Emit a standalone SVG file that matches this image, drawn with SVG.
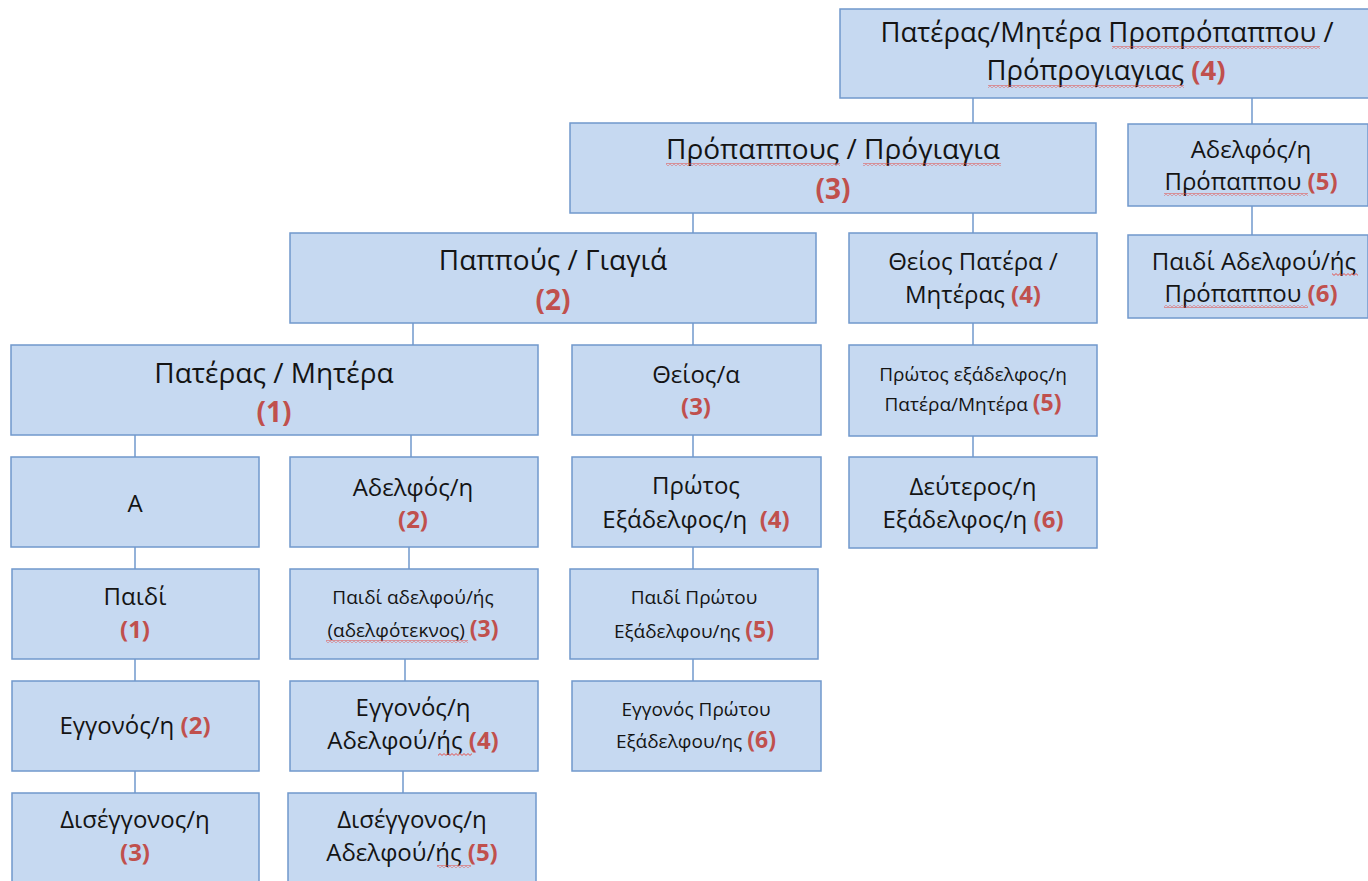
<svg xmlns="http://www.w3.org/2000/svg" width="1368" height="881" viewBox="0 0 1368 881">
<defs>
<pattern id="wv" x="0" y="0" width="4" height="3" patternUnits="userSpaceOnUse">
<path d="M0 0.6L2 2.4L4 0.6" fill="none" stroke="#E5443C" stroke-width="0.9"/>
</pattern>
</defs>
<style>
.box{fill:#C6D9F1;stroke:#7098CC;stroke-width:1.5}
.c path{stroke:#7098CC;stroke-width:1.5;fill:none}
.t{font-family:"Open Sans","Noto Sans",sans-serif;fill:#141414;text-anchor:middle}
.L{font-size:28px}
.M{font-size:24px}
.S{font-size:19px}
.n{fill:#C0504D;font-weight:bold}
.nS{font-size:23px}
.sq{fill:url(#wv)}
</style>
<rect width="1368" height="881" fill="#ffffff"/>
<g id="connectors" class="c">
<path d="M973 98V123"/>
<path d="M1252 98V124"/>
<path d="M1252 206V235"/>
<path d="M693 213V233"/>
<path d="M973 213V233"/>
<path d="M413 323V345"/>
<path d="M693 323V345"/>
<path d="M973 323V345"/>
<path d="M973 436V457"/>
<path d="M135 435V457"/>
<path d="M411 435V457"/>
<path d="M693 435V457"/>
<path d="M135 547V569"/>
<path d="M409 547V569"/>
<path d="M693 547V569"/>
<path d="M135 659V681"/>
<path d="M405 659V681"/>
<path d="M693 659V681"/>
<path d="M135 771V793"/>
<path d="M403 771V793"/>
</g>
<g id="n0"><rect class="box" x="840" y="9" width="540" height="89"/>
<text class="t" style="font-size:27.5px" x="1107" y="42">Πατέρας/Μητέρα Προπρόπαππου /</text>
<text class="t" style="font-size:27.5px" x="1106" y="80">Πρόπρογιαγιας <tspan class="n">(4)</tspan></text>
<rect class="sq" x="1112" y="46" width="208" height="3"/>
<rect class="sq" x="988" y="85" width="196" height="3"/></g>
<g id="n1"><rect class="box" x="570" y="123" width="526" height="90"/>
<text class="t L" x="833" y="159">Πρόπαππους / Πρόγιαγια</text>
<text class="t L n" x="833" y="199">(3)</text>
<rect class="sq" x="666" y="163" width="174" height="3"/>
<rect class="sq" x="863" y="163" width="138" height="3"/></g>
<g id="n2"><rect class="box" x="1128" y="124" width="240" height="82"/>
<text class="t M" x="1251" y="158">Αδελφός/η</text>
<text class="t M" x="1251" y="190">Πρόπαππου <tspan class="n">(5)</tspan></text>
<rect class="sq" x="1164" y="193" width="144" height="3"/></g>
<g id="n3"><rect class="box" x="1128" y="235" width="240" height="83"/>
<text class="t M" x="1254" y="270">Παιδί Αδελφού/ής</text>
<text class="t M" x="1251" y="302">Πρόπαππου <tspan class="n">(6)</tspan></text>
<rect class="sq" x="1332" y="273" width="26" height="3"/>
<rect class="sq" x="1164" y="305" width="144" height="3"/></g>
<g id="n4"><rect class="box" x="290" y="233" width="526" height="90"/>
<text class="t L" x="553" y="270">Παππούς / Γιαγιά</text>
<text class="t L n" x="553" y="310">(2)</text></g>
<g id="n5"><rect class="box" x="849" y="233" width="248" height="90"/>
<text class="t M" x="973" y="270">Θείος Πατέρα /</text>
<text class="t M" x="973" y="303">Μητέρας <tspan class="n">(4)</tspan></text></g>
<g id="n6"><rect class="box" x="11" y="345" width="527" height="90"/>
<text class="t L" x="274" y="383">Πατέρας / Μητέρα</text>
<text class="t L n" x="274" y="422">(1)</text></g>
<g id="n7"><rect class="box" x="572" y="345" width="249" height="90"/>
<text class="t M" x="696" y="383">Θείος/α</text>
<text class="t M n" x="696" y="415">(3)</text></g>
<g id="n8"><rect class="box" x="849" y="345" width="248" height="91"/>
<text class="t S" x="973" y="381">Πρώτος εξάδελφος/η</text>
<text class="t S" x="973" y="411">Πατέρα/Μητέρα <tspan class="n nS">(5)</tspan></text></g>
<g id="n9"><rect class="box" x="11" y="457" width="248" height="90"/>
<text class="t" style="font-size:24px" x="135" y="512">Α</text></g>
<g id="n10"><rect class="box" x="290" y="457" width="248" height="90"/>
<text class="t M" x="413" y="496">Αδελφός/η</text>
<text class="t M n" x="413" y="528">(2)</text></g>
<g id="n11"><rect class="box" x="572" y="457" width="249" height="90"/>
<text class="t M" x="696" y="494">Πρώτος</text>
<text class="t M" x="696" y="528" xml:space="preserve">Εξάδελφος/η  <tspan class="n">(4)</tspan></text></g>
<g id="n12"><rect class="box" x="849" y="457" width="248" height="91"/>
<text class="t M" x="973" y="495">Δεύτερος/η</text>
<text class="t M" x="973" y="528">Εξάδελφος/η <tspan class="n">(6)</tspan></text></g>
<g id="n13"><rect class="box" x="12" y="569" width="247" height="90"/>
<text class="t M" x="135" y="605">Παιδί</text>
<text class="t M n" x="135" y="638">(1)</text></g>
<g id="n14"><rect class="box" x="290" y="569" width="248" height="90"/>
<text class="t S" x="413" y="604">Παιδί αδελφού/ής</text>
<text class="t S" x="413" y="637">(αδελφότεκνος) <tspan class="n nS">(3)</tspan></text>
<rect class="sq" x="326" y="640" width="142" height="3"/></g>
<g id="n15"><rect class="box" x="570" y="569" width="248" height="90"/>
<text class="t S" x="694" y="604">Παιδί Πρώτου</text>
<text class="t S" x="694" y="638">Εξάδελφου/ης <tspan class="n nS">(5)</tspan></text></g>
<g id="n16"><rect class="box" x="12" y="681" width="247" height="90"/>
<text class="t M" x="135" y="734">Εγγονός/η <tspan class="n">(2)</tspan></text></g>
<g id="n17"><rect class="box" x="290" y="681" width="248" height="90"/>
<text class="t M" x="413" y="716">Εγγονός/η</text>
<text class="t M" x="413" y="749">Αδελφού/ής <tspan class="n">(4)</tspan></text>
<rect class="sq" x="438" y="753" width="34" height="3"/></g>
<g id="n18"><rect class="box" x="572" y="681" width="249" height="90"/>
<text class="t S" x="696" y="716">Εγγονός Πρώτου</text>
<text class="t S" x="696" y="748">Εξάδελφου/ης <tspan class="n nS">(6)</tspan></text></g>
<g id="n19"><rect class="box" x="12" y="793" width="247" height="95"/>
<text class="t M" x="135" y="828">Δισέγγονος/η</text>
<text class="t M n" x="135" y="861">(3)</text></g>
<g id="n20"><rect class="box" x="288" y="793" width="248" height="95"/>
<text class="t M" x="412" y="828">Δισέγγονος/η</text>
<text class="t M" x="412" y="861">Αδελφού/ής <tspan class="n">(5)</tspan></text>
<rect class="sq" x="437" y="865" width="34" height="3"/></g>
</svg>
